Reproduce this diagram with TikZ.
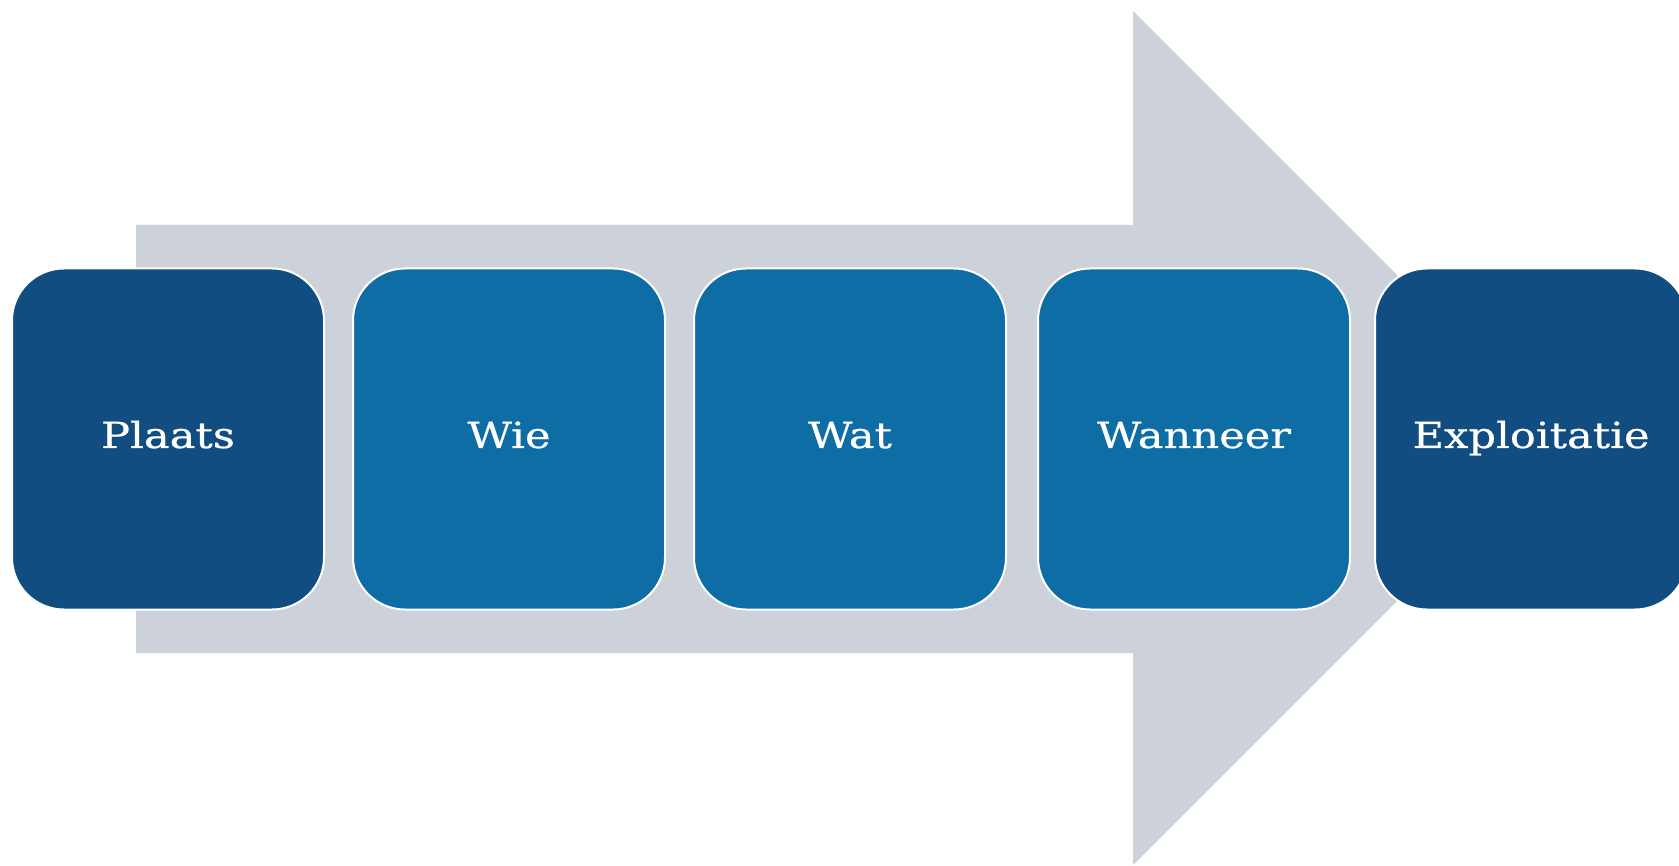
\documentclass[tikz,border=0pt]{standalone}
\usepackage{fontspec}
\newfontfamily\boxfont[FakeStretch=1.2,FakeBold=0.6]{DejaVu Serif}
\definecolor{arrowgray}{HTML}{CDD1DA}
\definecolor{darkblue}{HTML}{114D80}
\definecolor{midblue}{HTML}{0F6DA6}
\tikzset{
  stagebox/.style={draw=white, line width=2pt, rounded corners=52pt,
    minimum width=312pt, minimum height=341pt, inner sep=0pt,
    text height=24pt, text depth=6pt,
    text=white, font=\boxfont\fontsize{36}{40}\selectfont},
  darkstage/.style={stagebox, fill=darkblue},
  midstage/.style={stagebox, fill=midblue}
}
\begin{document}
\begin{tikzpicture}[x=1pt,y=-1pt]
\useasboundingbox (0,0) rectangle (1679,866);
\fill[arrowgray] (136,225) -- (1133,225) -- (1133,11) -- (1560,438) -- (1133,865) -- (1133,653) -- (136,653) -- cycle;
\node[darkstage] (plaats) at (168,439) {Plaats};
\node[midstage] (wie) at (509,439) {Wie};
\node[midstage] (wat) at (850,439) {Wat};
\node[midstage] (wanneer) at (1194,439) {Wanneer};
\node[darkstage] (exploitatie) at (1531,439) {Exploitatie};
\end{tikzpicture}
\end{document}
